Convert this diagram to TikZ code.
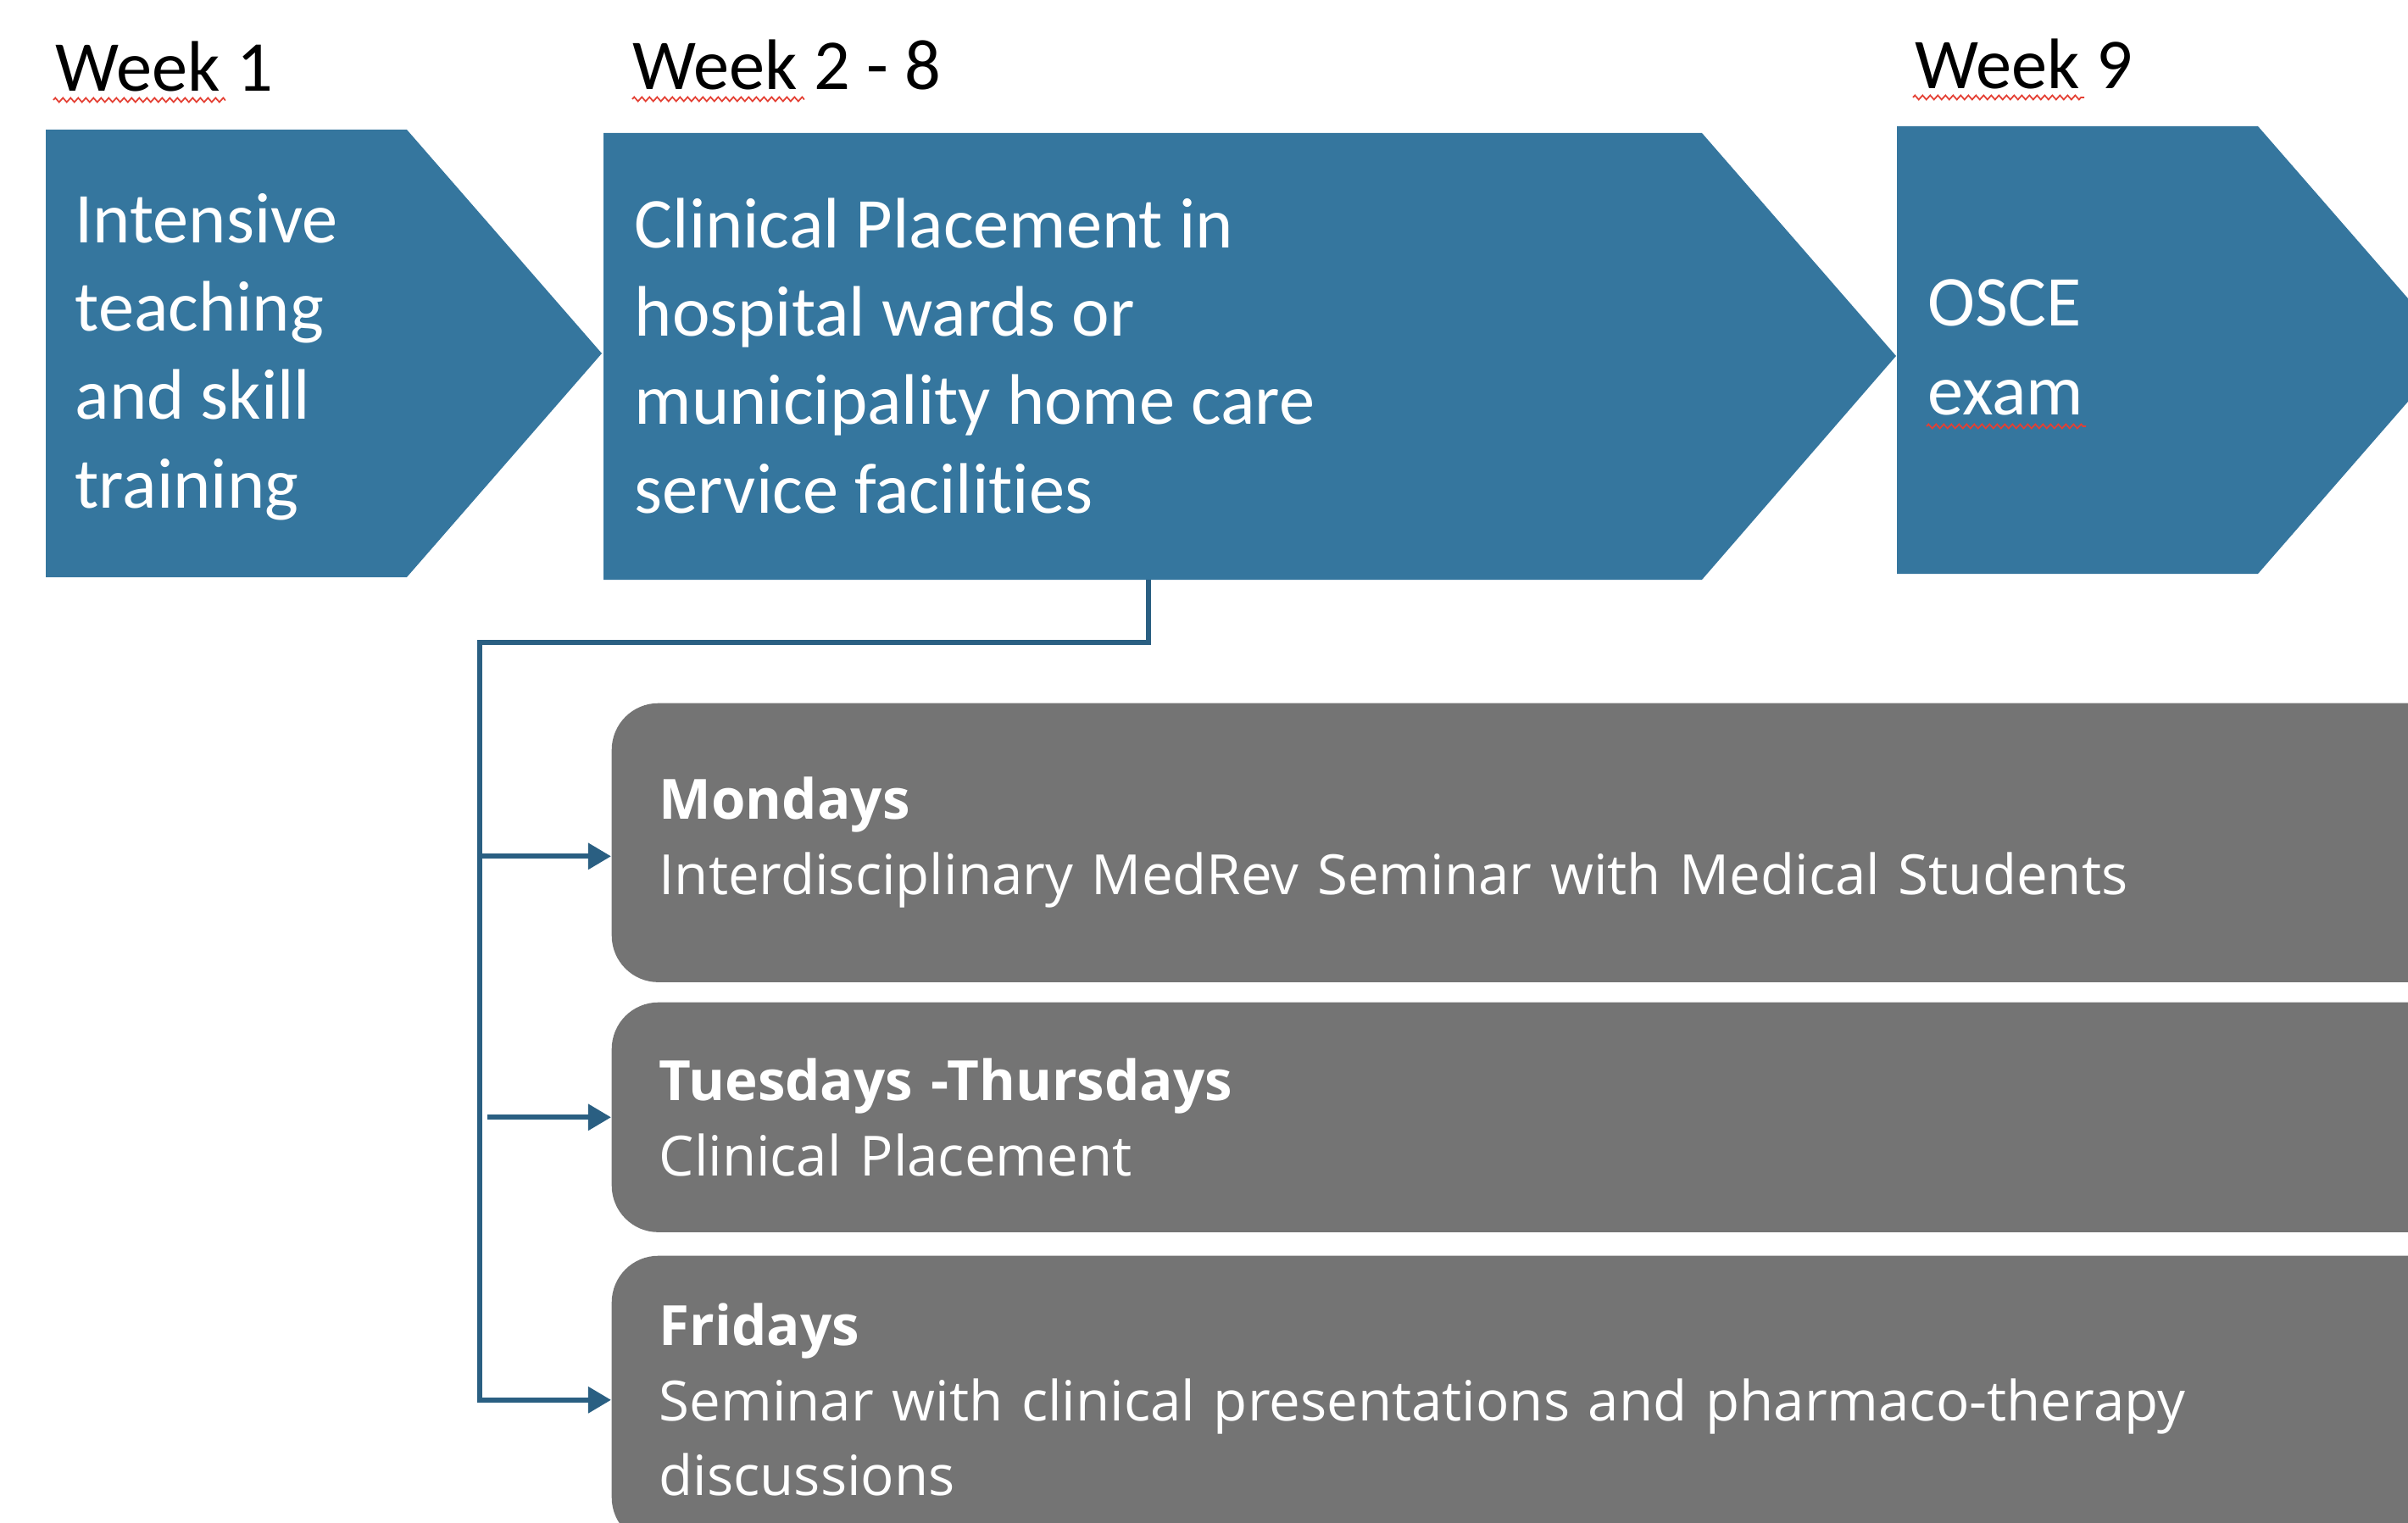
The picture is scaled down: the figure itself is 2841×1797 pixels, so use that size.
\documentclass[tikz,border=0pt]{standalone}
\usepackage{fontspec}
\setmainfont{Carlito}[Ligatures=NoCommon]
\newfontfamily\dayfont{Open Sans}
\usetikzlibrary{arrows.meta,decorations.pathmorphing}
\definecolor{chevblue}{RGB}{53,118,158}
\definecolor{linkblue}{RGB}{42,95,130}
\definecolor{daygray}{RGB}{116,116,116}
\definecolor{spellred}{RGB}{228,64,52}

\begin{document}
\begin{tikzpicture}[x=0.01cm,y=-0.01cm,
  week/.style={anchor=base west,inner sep=0,font=\fontsize{24}{29}\selectfont},
  chev/.style={fill=chevblue},
  chevtext/.style={anchor=base west,inner sep=0,align=left,text=white,font=\fontsize{24}{29.6}\selectfont},
  daybox/.style={fill=daygray,rounded corners=0.55cm,text=white,align=left,anchor=north west,
    inner xsep=0.56cm,inner ysep=0,minimum width=22.29cm,text width=21.17cm,
    font=\dayfont\fontsize{18.6}{25.2}\selectfont},
  link/.style={draw=linkblue,line width=1.7pt},
  tip/.style={-{Triangle[length=0.27cm,width=0.3cm]}},
  spell/.style={draw=spellred,line width=0.5pt,decorate,decoration={zigzag,segment length=0.09cm,amplitude=0.025cm}}]
  \useasboundingbox (0,0) rectangle (2841,1797);
  \clip (0,0) rectangle (2841,1797);
  \fill[chev] (54,153) -- (480,153) -- (710,417) -- (480,681) -- (54,681) -- cycle;
  \fill[chev] (712,157) -- (2008,157) -- (2237,420) -- (2008,684) -- (712,684) -- cycle;
  \fill[chev] (2238,149) -- (2664,149) -- (2894,413) -- (2664,677) -- (2238,677) -- cycle;
  \node[week] (w1) at (65,108) {Week 1};
  \node[week] (w2) at (746,106) {Week 2 - 8};
  \node[week] (w9) at (2259,105) {Week 9};
  \draw[spell] (63,118) -- (266,118);
  \draw[spell] (746,117) -- (949,117);
  \draw[spell] (2257,115) -- (2459,115);
  \draw[spell] (2273,503) -- (2461,503);
  \node[chevtext] (c1) at (88,599) {Intensive\\teaching\\and skill\\training};
  \node[chevtext] (c2) at (748,605) {Clinical Placement in\\hospital wards or\\municipality home care\\service facilities};
  \node[chevtext] (c9) at (2274,489) {OSCE\\exam};
  \node[daybox,minimum height=3.29cm] (mon) at (721,829) {\textbf{Mondays}\\Interdisciplinary MedRev Seminar with Medical Students};
  \node[daybox,minimum height=2.71cm] (tue) at (721,1182) {\textbf{Tuesdays -Thursdays}\\Clinical Placement};
  \node[daybox,minimum height=3.4cm] (fri) at (721,1481) {\textbf{Fridays}\\Seminar with clinical presentations and pharmaco-therapy\\discussions};
  \coordinate (drop) at (1355,684);
  \coordinate (trunk) at (566,758);
  \coordinate (monin) at ([yshift=-0.16cm]mon.west);
  \draw[link,tip] (drop) |- (trunk) |- (fri.west);
  \draw[link,tip] (trunk |- monin) -- (monin);
  \draw[link,tip] ([xshift=0.09cm]trunk |- tue.west) -- (tue.west);
\end{tikzpicture}
\end{document}
